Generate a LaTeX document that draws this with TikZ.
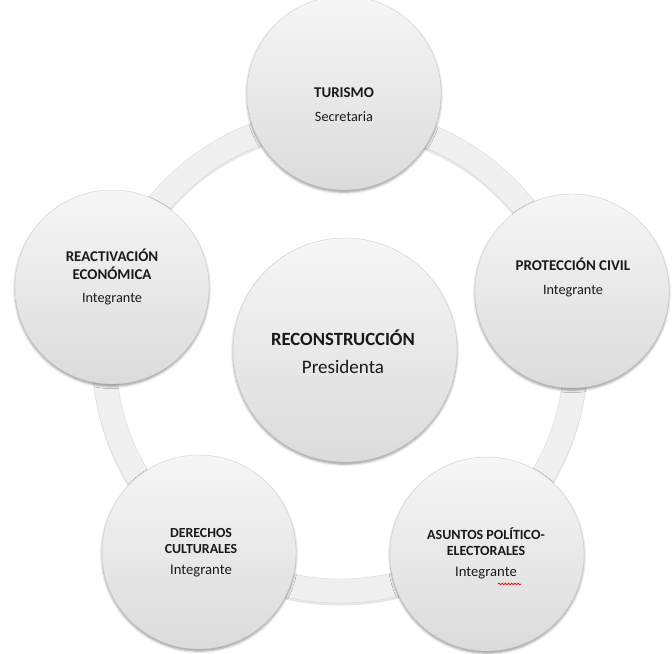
\documentclass[tikz,border=0pt]{standalone}
\usepackage{fontspec}
\setmainfont{Carlito}
\usetikzlibrary{shadows.blur,decorations.pathmorphing}

\tikzset{
  ball/.style={circle, inner sep=0pt, minimum size=145.5pt, top color=gray!7, bottom color=gray!28, draw=gray!38, line width=0.3pt,
    blur shadow={shadow xshift=0pt, shadow yshift=-1.6pt, shadow blur radius=1.8pt, shadow opacity=40}},
  hub/.style={ball, minimum size=168pt},
  lbl/.style={align=center, inner sep=0pt, text=black!90, font=\fontsize{11.2}{13.2}\selectfont},
  band/.style={fill=gray!12, draw=gray!30, line width=0.3pt, even odd rule},
}

\begin{document}
\begin{tikzpicture}[x=0.75pt,y=0.75pt,yscale=-1,xscale=1]
\useasboundingbox (0,0) rectangle (672,654);

%Shape: Ring shadow
\fill [gray!55, opacity=0.35, even odd rule] (340,357.5) circle (248) (340,357.5) circle (224) ;
%Shape: Ring
\draw [band] (340,355) circle (248) (340,355) circle (224) ;

%Shape: Circles
\node [ball] (tur) at (344,93) {};
\node [ball] (react) at (112,287) {};
\node [ball] (prot) at (572,291) {};
\node [ball] (der) at (199,552) {};
\node [ball] (asu) at (487,554) {};
\node [hub] (recon) at (345,350) {};

% Text Node
\node [lbl] (turTxt) at (344,105) {\textbf{TURISMO}\\[5pt]{\fontsize{10.7}{12}\selectfont Secretaria}};
% Text Node
\node [lbl] (reactTxt) at (112,277) {\textbf{REACTIVACIÓN}\\\textbf{ECONÓMICA}\\[4pt]{\fontsize{10.7}{12}\selectfont Integrante}};
% Text Node
\node [lbl] (protTxt) at (573,277.5) {\textbf{PROTECCIÓN CIVIL}\\[5pt]{\fontsize{10.7}{12}\selectfont Integrante}};
% Text Node
\node [lbl, font=\fontsize{10.4}{12}\selectfont] (derTxt) at (201,553) {\textbf{DERECHOS}\\\textbf{CULTURALES}\\[4pt]{\fontsize{11}{12}\selectfont Integrante}};
% Text Node
\node [lbl, font=\fontsize{10.5}{12}\selectfont] (asuTxt) at (486,553.5) {\textbf{ASUNTOS POLÍTICO-}\\\textbf{ELECTORALES}\\[4pt]{\fontsize{11}{12}\selectfont Integrante}};
% Text Node
\node [lbl, font=\fontsize{14}{16}\selectfont] (reconTxt) at (343,352) {\textbf{RECONSTRUCCIÓN}\\[5pt]{\fontsize{14.3}{16}\selectfont Presidenta}};

%Spelling mark
\draw [red!85!black, line width=0.5pt, decorate, decoration={snake, amplitude=0.7pt, segment length=2.4pt}] (498,584) -- (521,584) ;
\end{tikzpicture}
\end{document}
